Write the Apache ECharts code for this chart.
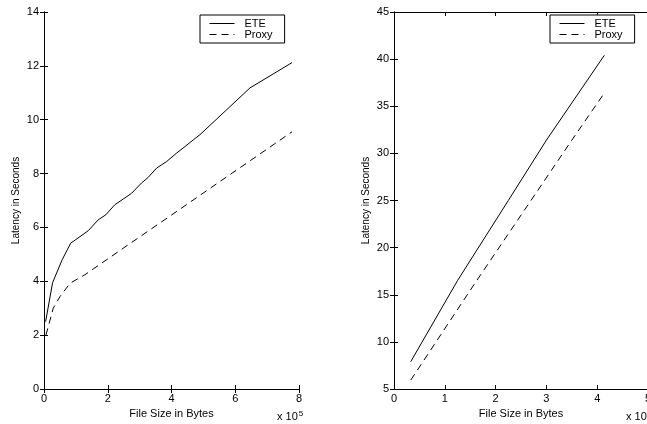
<!DOCTYPE html>
<html>
<head>
<meta charset="utf-8">
<script src="https://cdn.jsdelivr.net/npm/echarts@6/dist/echarts.min.js"></script>
<style>
  html, body { margin: 0; padding: 0; background: #fff; }
  #chart { width: 647px; height: 424px; }
</style>
</head>
<body>
<div id="chart"></div>
<script>
// left panel, file size in units of 1e5 bytes
const leftEteX = [0.05, 0.27, 0.57, 0.84, 1.0, 1.39, 1.70, 1.94, 2.22, 2.75, 3.06, 3.27, 3.53, 3.85, 4.16, 4.42, 4.68, 4.89, 5.73, 6.46, 7.78];
const leftEteY = [2.5, 3.95, 4.8, 5.42, 5.55, 5.88, 6.28, 6.47, 6.84, 7.27, 7.65, 7.86, 8.2, 8.45, 8.76, 9.0, 9.25, 9.44, 10.37, 11.18, 12.12];
const leftProxyX = [0.06, 0.19, 0.29, 0.5, 0.82, 1.28, 2.5, 4.0, 5.5, 7.0, 7.78];
const leftProxyY = [2.0, 2.56, 3.0, 3.43, 3.93, 4.24, 5.24, 6.46, 7.69, 8.91, 9.55];

// right panel, file size in units of 1e6 bytes
const rightEteX = [0.33, 1.25, 2.25, 3.0, 4.14];
const rightEteY = [7.9, 16.5, 25.0, 31.4, 40.4];
const rightProxyX = [0.33, 1.59, 3.5, 4.14];
const rightProxyY = [5.95, 16.2, 31.4, 36.4];

const seriesNames = ["ETE", "Proxy"];

const zip = (xs, ys) => xs.map((x, i) => [x, ys[i]]);

const font = "Liberation Sans, Arial, Helvetica, sans-serif";
const black = "#000";

function xAxes(grid, max, interval) {
  const base = {
    gridIndex: grid,
    type: "value",
    min: 0,
    max: max,
    interval: interval,
    splitLine: { show: false },
    axisLine: { show: true, lineStyle: { color: black, width: 1 } },
    axisTick: { show: true, inside: true, length: 4, lineStyle: { color: black } },
  };
  return [
    {
      ...base,
      position: "bottom",
      name: "File Size in Bytes",
      nameLocation: "middle",
      nameGap: 17,
      nameTextStyle: { color: black, fontSize: 11, fontFamily: font },
      axisLabel: { color: black, fontSize: 11, fontFamily: font, margin: 4 },
    },
    { ...base, position: "top", axisLabel: { show: false } },
  ];
}

function yAxes(grid, min, max, interval) {
  const base = {
    gridIndex: grid,
    type: "value",
    min: min,
    max: max,
    interval: interval,
    splitLine: { show: false },
    axisLine: { show: true, lineStyle: { color: black, width: 1 } },
    axisTick: { show: true, inside: true, length: 4, lineStyle: { color: black } },
  };
  return [
    {
      ...base,
      position: "left",
      name: "Latency in Seconds",
      nameLocation: "middle",
      nameRotate: 90,
      nameGap: 23,
      nameTextStyle: { color: black, fontSize: 10, fontFamily: font },
      axisLabel: { color: black, fontSize: 11, fontFamily: font, margin: 5 },
    },
    { ...base, position: "right", axisLabel: { show: false } },
  ];
}

function legend(left) {
  return {
    data: seriesNames,
    left: left,
    top: 15,
    orient: "vertical",
    selectedMode: false,
    backgroundColor: "#fff",
    borderColor: black,
    borderWidth: 1,
    borderRadius: 0,
    padding: [3, 12, 3, 9],
    itemWidth: 25,
    itemHeight: 11,
    itemGap: 0,
    // hide the marker dot, keep only the line sample
    itemStyle: { opacity: 0 },
    lineStyle: { width: 1 },
    textStyle: { color: black, fontSize: 11, fontFamily: font, padding: [0, 0, 0, 5], lineHeight: 11 },
  };
}

function line(name, data, xi, yi, dashed) {
  return {
    name: name,
    type: "line",
    xAxisIndex: xi,
    yAxisIndex: yi,
    data: data,
    symbol: "none",
    silent: true,
    z: 1,
    lineStyle: { color: black, width: 1, type: dashed ? [7, 5] : "solid" },
    itemStyle: { color: black },
  };
}

const chart = echarts.init(document.getElementById("chart"), null, { renderer: "canvas" });

chart.setOption({
  animation: false,
  backgroundColor: "#fff",
  grid: [
    { left: 44, top: 12, width: 255, height: 377, outerBoundsMode: "none" },
    // right frame sits just past the window edge in the original
    { left: 394, top: 12, width: 254, height: 377, outerBoundsMode: "none" },
  ],
  xAxis: [...xAxes(0, 8, 2), ...xAxes(1, 5, 1)],
  yAxis: [...yAxes(0, 0, 14, 2), ...yAxes(1, 5, 45, 5)],
  legend: [legend(200), legend(550)],
  series: [
    line("ETE", zip(leftEteX, leftEteY), 0, 0, false),
    line("Proxy", zip(leftProxyX, leftProxyY), 0, 0, true),
    line("ETE", zip(rightEteX, rightEteY), 2, 2, false),
    line("Proxy", zip(rightProxyX, rightProxyY), 2, 2, true),
  ],
  graphic: [
    {
      type: "text",
      left: 277,
      top: 410,
      style: {
        text: "x 10{sup|5}",
        fill: black,
        font: "11px " + font,
        rich: { sup: { fontSize: 8, fontFamily: font, verticalAlign: "top", padding: [0, 0, 6, 1] } },
      },
    },
    {
      type: "text",
      left: 626,
      top: 410,
      style: {
        text: "x 10{sup|6}",
        fill: black,
        font: "11px " + font,
        rich: { sup: { fontSize: 8, fontFamily: font, verticalAlign: "top", padding: [0, 0, 6, 1] } },
      },
    },
  ],
});
</script>
</body>
</html>
